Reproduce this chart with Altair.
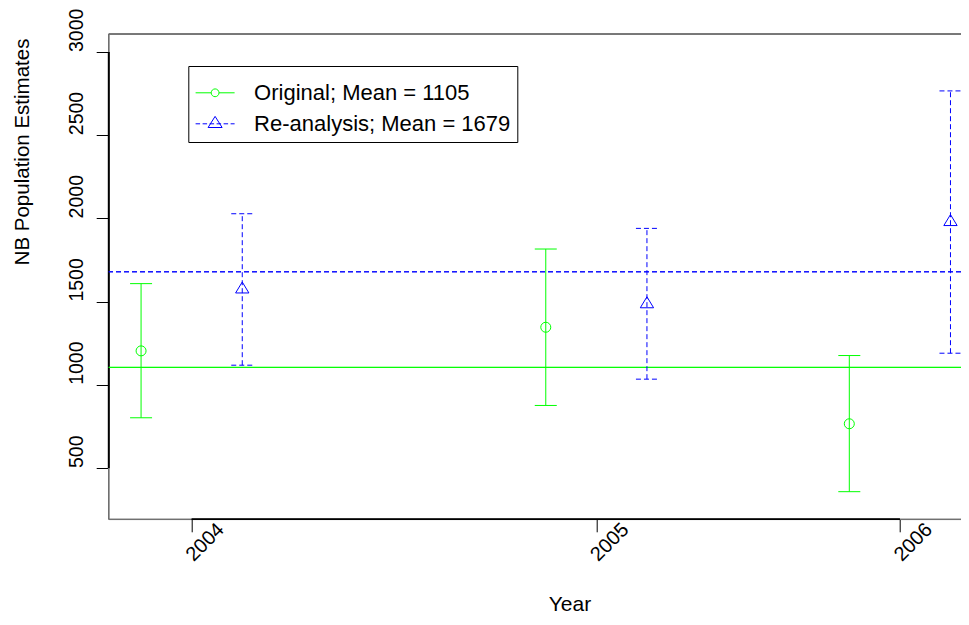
import altair as alt
import pandas as pd

# ---------------- data ----------------
series_names = ["Original; Mean = 1105", "Re-analysis; Mean = 1679"]
orig_x = [2003.875, 2004.875, 2005.625]
orig_est = [1204, 1346, 766]
orig_lo = [802, 876, 358]
orig_hi = [1608, 1816, 1176]
re_x = [2004.125, 2005.125, 2005.875]
re_est = [1574, 1485, 1979]
re_lo = [1118, 1034, 1190]
re_hi = [2028, 1940, 2766]
means = [1105, 1679]
x_tick_values = [2004, 2005, 2005.75]
x_tick_labels = ["2004", "2005", "2006"]
y_tick_values = [500, 1000, 1500, 2000, 2500, 3000]
x_domain = [2003.795, 2005.901]
y_domain = [192, 3108]

GREEN = "#00ff00"
BLUE = "#0000ff"
DASH = [5, 3]
FONT = "Liberation Sans"
W, H = 852.3, 485.3

orig_df = pd.DataFrame({"t": orig_x, "est": orig_est, "lo": orig_lo, "hi": orig_hi})
re_df = pd.DataFrame({"t": re_x, "est": re_est, "lo": re_lo, "hi": re_hi})
legend_df = pd.DataFrame({"series": series_names})

# ---------------- scales / axes ----------------
label_expr = " : ".join(
    f"datum.value == {v} ? '{l}'" for v, l in zip(x_tick_values, x_tick_labels)
) + " : ''"

x_axis = alt.Axis(
    values=x_tick_values, labelExpr=label_expr, domain=False, grid=False,
    ticks=True, tickSize=12.5, tickColor="black", tickWidth=1,
    labelAngle=315, labelAlign="left", labelBaseline="alphabetic",
    labelPadding=30, labelOffset=1.5, labelFontSize=20, labelFont=FONT,
    labelColor="black", labelFlush=False, labelOverlap=False, labelBound=False,
    title="Year", titleFont=FONT, titleFontSize=21, titleFontWeight="normal",
    titleColor="black", titleX=460.8, titleY=91, titleAlign="center",
    titleBaseline="alphabetic", titleAngle=0,
)
y_axis = alt.Axis(
    values=y_tick_values, format="d", domain=False, grid=False,
    ticks=True, tickSize=12.5, tickColor="black", tickWidth=1,
    labelAngle=270, labelAlign="left", labelBaseline="alphabetic",
    labelPadding=14, labelOffset=-0.5, labelFontSize=19.5, labelFont=FONT,
    labelColor="black", labelFlush=False, labelOverlap=False, labelBound=False,
    title="NB Population Estimates", titleFont=FONT, titleFontSize=20.5,
    titleFontWeight="normal", titleColor="black", titleAngle=270,
    titleX=-80.2, titleY=117.5, titleAlign="center", titleBaseline="alphabetic",
)
x_scale = alt.Scale(domain=x_domain, zero=False, nice=False)
y_scale = alt.Scale(domain=y_domain, zero=False, nice=False)


def X(field="t"):
    return alt.X(f"{field}:Q", scale=x_scale, axis=x_axis)


def Y(field):
    return alt.Y(f"{field}:Q", scale=y_scale, axis=y_axis)


TRI = "M0,-1.1L-1,0.55L1,0.55Z"
CAP = "M-1,0L1,0"


def series_layers(df, color, dash, shape, size):
    base = alt.Chart(df)
    extra = {"strokeDash": dash} if dash else {}
    bars = base.mark_rule(color=color, strokeWidth=1, **extra).encode(
        x=X(), y=Y("lo"), y2="hi:Q")
    cap_lo = base.mark_point(shape=CAP, size=484, color=color, filled=False,
                             strokeWidth=1, opacity=1, **extra).encode(x=X(), y=Y("lo"))
    cap_hi = base.mark_point(shape=CAP, size=484, color=color, filled=False,
                             strokeWidth=1, opacity=1, **extra).encode(x=X(), y=Y("hi"))
    pts = base.mark_point(shape=shape, size=size, color=color, filled=False,
                          strokeWidth=1, opacity=1).encode(x=X(), y=Y("est"))
    return [bars, cap_lo, cap_hi, pts]


# mean lines
mean_orig = alt.Chart(legend_df).mark_rule(color=GREEN, strokeWidth=1).encode(
    y=alt.Y(datum=means[0], scale=y_scale, axis=y_axis))
mean_re = alt.Chart(legend_df).mark_rule(color=BLUE, strokeWidth=1, strokeDash=DASH).encode(
    y=alt.Y(datum=means[1], scale=y_scale, axis=y_axis))

# plot box (frame) and darker axis segments
BOX = "#707070"
frame_top = alt.Chart(legend_df).mark_rule(color=BOX, strokeWidth=1.3).encode(
    x=alt.value(0), x2=alt.value(W + 2), y=alt.value(0))
frame_left = alt.Chart(legend_df).mark_rule(color=BOX, strokeWidth=1.3).encode(
    x=alt.value(0), y=alt.value(0), y2=alt.value(H))
frame_bottom = alt.Chart(legend_df).mark_rule(color=BOX, strokeWidth=1.3).encode(
    x=alt.value(0), x2=alt.value(W + 2), y=alt.value(H))
axis_left = alt.Chart(legend_df).mark_rule(color="black", strokeWidth=1.6).encode(
    x=alt.value(0),
    y=alt.Y(datum=y_tick_values[0], scale=y_scale, axis=y_axis),
    y2=alt.Y2(datum=y_tick_values[-1]))
axis_bottom = alt.Chart(legend_df).mark_rule(color="black", strokeWidth=1.6).encode(
    y=alt.value(H),
    x=alt.X(datum=x_tick_values[0], scale=x_scale, axis=x_axis),
    x2=alt.X2(datum=x_tick_values[-1]))

# legend (invisible carrier layer)
ORIG_SYM = "M-1,0L-0.2,0M0.2,0L1,0M-0.2,0A0.2,0.2,0,1,1,0.2,0A0.2,0.2,0,1,1,-0.2,0"
dash_segs = []
pos = -1.0
on, off = 4.5 / 19.5, 2.5 / 19.5
while pos < 1.0:
    end = min(pos + on, 1.0)
    dash_segs.append(f"M{pos:.3f},0L{end:.3f},0")
    pos = end + off
RE_SYM = "".join(dash_segs) + "M0,-0.38L-0.36,0.19L0.36,0.19Z"

leg = alt.Legend(
    title=None, orient="none", legendX=79.6, legendY=32, padding=6.8,
    rowPadding=-11.3, labelOffset=19, labelFontSize=22, labelFont=FONT,
    labelColor="black", labelLimit=600, strokeColor="black", fillColor="white",
    symbolStrokeWidth=1, symbolSize=1521, symbolOpacity=1,
    symbolFillColor="transparent", cornerRadius=0,
)
legend_layer = alt.Chart(legend_df).mark_point(opacity=0, filled=False, size=1521).encode(
    color=alt.Color("series:N", scale=alt.Scale(domain=series_names, range=[GREEN, BLUE]), legend=leg),
    shape=alt.Shape("series:N", scale=alt.Scale(domain=series_names, range=[ORIG_SYM, RE_SYM]), legend=leg),
)

layers = (
    [frame_top, frame_left, frame_bottom, axis_left, axis_bottom, mean_orig, mean_re]
    + series_layers(orig_df, GREEN, None, "circle", 100)
    + series_layers(re_df, BLUE, DASH, TRI, 177)
    + [legend_layer]
)

chart = alt.layer(*layers).properties(
    width=W, height=H, autosize="none",
    padding={"left": 100.7, "top": 26, "right": 0, "bottom": 95.7},
).configure_view(stroke=None).configure(background="white")

chart.save("out.html", embed_options={"renderer": "svg", "actions": False})
